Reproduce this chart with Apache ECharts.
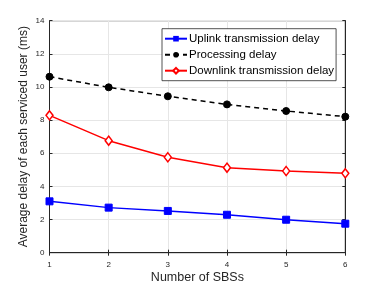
<!DOCTYPE html>
<html><head><meta charset="utf-8">
<script src="https://cdn.jsdelivr.net/npm/echarts@6/dist/echarts.min.js"></script>
<style>html,body{margin:0;padding:0;background:#fff}#c{width:382px;height:286px}</style>
</head><body><div id="c"></div>
<script>
const sbs = [1, 2, 3, 4, 5, 6];
const uplink = [3.10, 2.72, 2.52, 2.29, 1.99, 1.75];
const processing = [10.62, 9.98, 9.44, 8.95, 8.55, 8.21];
const downlink = [8.29, 6.76, 5.76, 5.13, 4.93, 4.79];
const seriesNames = ['Uplink transmission delay', 'Processing delay', 'Downlink transmission delay'];
const xTicks = [1, 2, 3, 4, 5, 6];
const yTicks = [0, 2, 4, 6, 8, 10, 12, 14];

const pair = a => sbs.map((x, i) => [x, a[i]]);
const font = 'Liberation Sans, Arial, Helvetica, sans-serif';
const axisCol = '#262626';
const grid = { left: 49.5, right: 36.7, top: 20.7, bottom: 33.3, show: true, borderColor: axisCol, borderWidth: 1,
  outerBoundsMode: 'none', containLabel: false };

const chart = echarts.init(document.getElementById('c'), null, { renderer: 'canvas' });
chart.setOption({
  animation: false,
  backgroundColor: '#fff',
  grid: grid,
  legend: {
    orient: 'vertical', left: 162, top: 28.7,
    data: seriesNames,
    backgroundColor: '#fff', borderColor: axisCol, borderWidth: 0.8,
    padding: [4, 2, 4, 2], itemGap: 4, itemWidth: 22, itemHeight: 7,
    textStyle: { fontFamily: font, fontSize: 11.5, color: '#000', padding: [0, 0, 0, -3] }
  },
  xAxis: [{
    type: 'value', min: 1, max: 6, interval: 1,
    name: 'Number of SBSs', nameLocation: 'middle', nameGap: 18, nameMoveOverlap: false,
    nameTextStyle: { fontFamily: font, fontSize: 12.5, color: axisCol },
    axisLine: { show: true, lineStyle: { color: axisCol, width: 1 } },
    axisTick: { show: true, inside: true, length: 3, lineStyle: { color: axisCol } },
    axisLabel: { fontFamily: font, fontSize: 8, color: axisCol, margin: 8,
      formatter: v => xTicks.includes(v) ? String(v) : '' },
    splitLine: { show: true, lineStyle: { color: '#e6e6e6', width: 1 } }
  }, {
    type: 'value', position: 'top', min: 1, max: 6, interval: 1,
    axisLine: { show: true, lineStyle: { color: axisCol } },
    axisTick: { show: true, inside: true, length: 3, lineStyle: { color: axisCol } },
    axisLabel: { show: false }, splitLine: { show: false }
  }],
  yAxis: [{
    type: 'value', min: 0, max: 14, interval: 2,
    name: 'Average delay of each serviced user (ms)', nameLocation: 'middle', nameGap: 20, nameMoveOverlap: false,
    nameTextStyle: { fontFamily: font, fontSize: 12, color: axisCol },
    axisLine: { show: true, lineStyle: { color: axisCol, width: 1 } },
    axisTick: { show: true, inside: true, length: 3, lineStyle: { color: axisCol } },
    axisLabel: { fontFamily: font, fontSize: 8, color: axisCol, margin: 5,
      formatter: v => yTicks.includes(v) ? String(v) : '' },
    splitLine: { show: true, lineStyle: { color: '#e6e6e6', width: 1 } }
  }, {
    type: 'value', position: 'right', min: 0, max: 14, interval: 2,
    axisLine: { show: true, lineStyle: { color: axisCol } },
    axisTick: { show: true, inside: true, length: 3, lineStyle: { color: axisCol } },
    axisLabel: { show: false }, splitLine: { show: false }
  }],
  series: [{
    name: seriesNames[0], type: 'line', data: pair(uplink),
    symbol: 'rect', symbolSize: 7,
    lineStyle: { color: '#0000ff', width: 1.5 },
    itemStyle: { color: '#0000ff', borderColor: '#0000ff' }
  }, {
    name: seriesNames[1], type: 'line', data: pair(processing),
    symbol: 'circle', symbolSize: 7,
    lineStyle: { color: '#000', width: 1.5, type: [5, 4] },
    itemStyle: { color: '#000', borderColor: '#000' }
  }, {
    name: seriesNames[2], type: 'line', data: pair(downlink),
    symbol: 'diamond', symbolSize: [7, 9],
    lineStyle: { color: '#ff0000', width: 1.5 },
    itemStyle: { color: '#fff', borderColor: '#ff0000', borderWidth: 1.5 }
  }]
});
</script></body></html>
